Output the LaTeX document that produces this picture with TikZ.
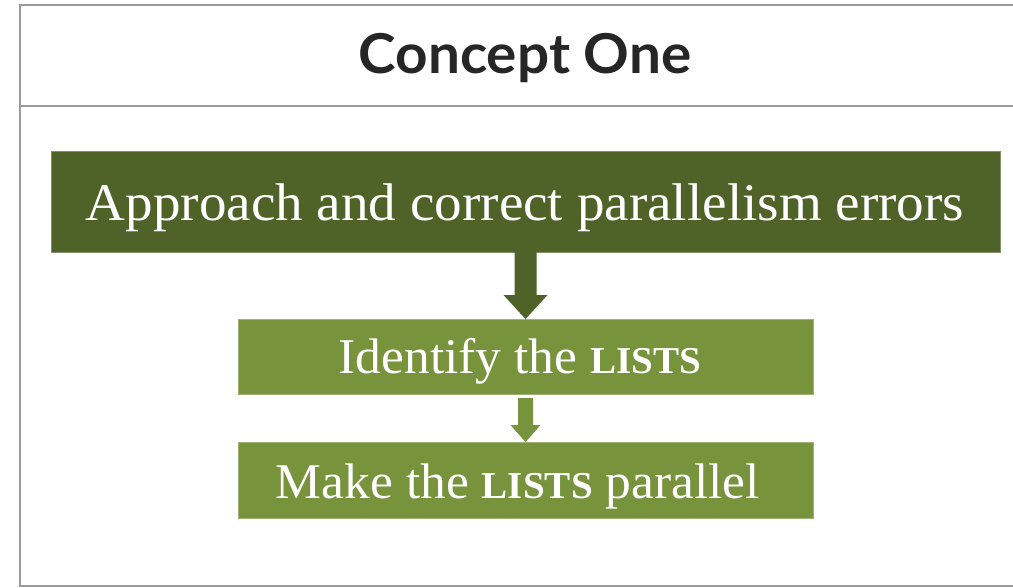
\documentclass[tikz,border=0pt]{standalone}
\usepackage{fontspec}
\setmainfont{Liberation Serif}
\newfontfamily\titlefont{Lato}
\usetikzlibrary{calc}
\definecolor{darkolive}{HTML}{4F6228}
\definecolor{lightolive}{HTML}{77933C}
\definecolor{framegray}{HTML}{9A9A9A}
\definecolor{titleink}{HTML}{262626}
\newcommand{\lists}[1]{{\bfseries\fontsize{#1}{#1}\selectfont LISTS}}
\begin{document}
\begin{tikzpicture}[x=1pt,y=-1pt,
  framestyle/.style={draw=framegray,line width=2pt},
  boxstyle/.style={rectangle,inner sep=0pt,outer sep=0pt,draw=#1!70!white,line width=0.6pt,fill=#1},
  txt/.style={anchor=base,inner sep=0pt,text=white}]
\useasboundingbox[fill=white] (0,0) rectangle (1013,587);
% frame
\coordinate (ftl) at (20,5);
\coordinate (ftr) at (1014,5);
\coordinate (fbl) at (20,586);
\coordinate (fbr) at (1014,586);
\coordinate (dl) at (20,106);
\coordinate (dr) at (1014,106);
\draw[framestyle] (ftr) -- (ftl) -- (fbl) -- (fbr);
\draw[framestyle] (dl) -- (dr);
% title
\node[anchor=base,inner sep=0pt,text=titleink,font=\titlefont\bfseries\fontsize{55}{55}\selectfont] (title) at (525,73) {\scalebox{1.03}[1]{Concept One}};
% boxes
\node[boxstyle=darkolive,minimum width=949pt,minimum height=101pt] (main) at (525.5,201.5) {};
\node[boxstyle=lightolive,minimum width=575pt,minimum height=75pt] (ident) at (525.5,356.5) {};
\node[boxstyle=lightolive,minimum width=575pt,minimum height=76pt] (make) at (525.5,480) {};
% texts
\node[txt,font=\fontsize{53}{53}\selectfont] (maintxt) at (525,220) {\scalebox{1.04}[1]{Approach and correct parallelism errors}};
\node[txt,font=\fontsize{50}{50}\selectfont] (identtxt) at (520,373) {\scalebox{1.03}[1]{Identify the \lists{38}}};
\node[txt,font=\fontsize{50}{50}\selectfont] (maketxt) at (518,498) {\scalebox{1.03}[1]{Make the \lists{38} parallel}};
% arrows
\fill[darkolive] ($(main.south)+(-11,0)$) -- ($(main.south)+(11,0)$) -- ($(main.south)+(11,43)$) -- ($(main.south)+(22,43)$) -- (ident.north) -- ($(main.south)+(-22,43)$) -- ($(main.south)+(-11,43)$) -- cycle;
\fill[lightolive] ($(ident.south)+(-7.5,4)$) -- ($(ident.south)+(7.5,4)$) -- ($(ident.south)+(7.5,31)$) -- ($(ident.south)+(15,31)$) -- (make.north) -- ($(ident.south)+(-15,31)$) -- ($(ident.south)+(-7.5,31)$) -- cycle;
\end{tikzpicture}
\end{document}
